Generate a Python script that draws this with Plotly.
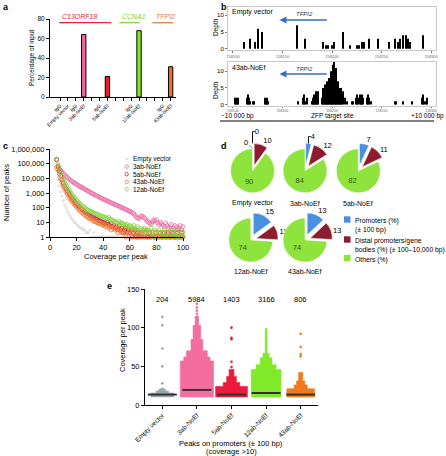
import plotly.graph_objects as go

W, H = 446, 456
FONT = "Liberation Sans, Arial, sans-serif"

# ---------------- Panel a data ----------------
a_tick_labels = ["IgG", "Empty vector", "IgG", "3ab-NoEf", "", "IgG", "5ab-NoEf", "", "", "IgG",
                 "12ab-NoEf", "", "", "IgG", "43ab-NoEf"]
a_bar_slots = [3, 6, 10, 14]
a_bar_values = [64, 21, 68, 31]
a_bar_colors = ["#f0679c", "#ec1c24", "#7ee82a", "#f26c1a"]
a_genes = ["C13ORF18", "CCNA1", "TFPI2"]
a_gene_start = [-0.1, 7.5, 11.7]
a_gene_end = [6.5, 10.1, 14.3]
a_gene_colors = ["#e0283a", "#7ed627", "#f07a3a"]

# ---------------- Panel b data ----------------
b_tick_vals = [-10000, -5000, 0, 5000, 10000]
b_tick_text = ["158100", "158150", "158200", "158250", "158300"]
b_top_pos = [-8860, -8310, -7780, -7440, -7040, -3535, -2730, -880, -600, -370, 30, 170,
             1140, 1820, 2490, 2730, 3000, 3230, 3740, 4680, 5760, 6360, 6630, 6870, 7200,
             7440, 7640, 7880, 9160]
b_top_depth = [2, 3, 2, 6, 5, 7, 3, 2, 1, 1, 1, 2, 5, 1, 1, 1, 2, 2, 3, 3, 2, 3, 2, 3, 4, 4, 3, 2, 4]
b_bot_pos = [-9800, -9700, -9590, -9490, -8550, -8450, -8350, -8250, -7950, -7850, -6770, -6670,
             -6560, -6430, -3400, -2900, -2800, -2700, -2560, -2050, -1920, -1820, -1720, -1620,
             -1520, -1410, -980, -880, -780, -680, -570, -470, -370, -270, -170, -70, 30, 130,
             200, 300, 400, 500, 600, 710, 810, 910, 1010, 1110, 1310, 1520, 1990, 2150, 2390,
             2490, 2590, 2830, 2930, 3030, 3130, 3500, 3640, 3770, 3910, 6360, 6500, 7200, 8050,
             9120, 9220, 9320, 9460, 9600]
b_bot_depth = [2, 2, 1, 2, 2, 3, 2, 1, 1, 1, 2, 1,
               2, 1, 1, 2, 3, 1, 2, 1, 2, 3, 2, 4,
               3, 4, 2, 5, 3, 6, 4, 7, 5, 8, 6, 10, 7, 12,
               13.5, 9, 11, 6, 7, 5, 4, 5, 3, 4, 2, 1, 1, 1, 2,
               3, 2, 3, 1, 3, 2, 2, 3, 2, 1, 1, 1, 1, 1,
               2, 3, 1, 1, 2]

# ---------------- Panel c data ----------------
c_coverage = [5, 6, 7, 8, 9, 10, 11, 12, 13, 14, 15, 16, 17, 18, 19, 20, 21, 22, 23, 24, 25, 26, 27,
              28, 29, 30, 31, 32, 33, 34, 35, 36, 37, 38, 39, 40, 41, 42, 43, 44, 45, 46, 47, 48, 49,
              50, 51, 52, 53, 54, 55, 56, 57, 58, 59, 60, 61, 62, 63, 64, 65, 66, 67, 68, 69, 70, 71,
              72, 73, 74, 75, 76, 77, 78, 79, 80, 81, 82, 83, 84, 85, 86, 87, 88, 89, 90, 91, 92, 93,
              94, 95, 96, 97, 98, 99, 100]
c_series = ["Empty vector", "3ab-NoEf", "5ab-NoEf", "43ab-NoEf", "12ab-NoEf"]
c_colors = ["#d0d0d0", "#ea6aa4", "#c8203e", "#f07a30", "#7ed63a"]
c_empty = [30000, 8000, 3000, 1200, 600, 300, 160, 100, 60, 40, 28, 20, 15, 11, 9, 7, 6, 5, 4, 4,
           3, 3, 2, 2, 2, 3, 1, 1, 2, 1, 1, 1, 1, 1, 1, 1, 1, 1, 1, 1, 1, 1, 1, 1, 1, 1, 1, 1, 1,
           1, 1, 1, 1, 1, 1, 1, 1, 1, 1, 1, 1, 1, 1, 1, 1, 1, 1, 1, 1, 1, 1, 1, 1, 1, 1, 1, 1, 1,
           1, 1, 1, 1, 1, 1, 1, 1, 1, 1, 1, 1, 1, 1, 1, 1, 1, 1]
c_3ab = [200000, 60000, 45000, 35000, 28000, 22000, 17000, 14000, 11500, 9500, 8000, 6800, 5900,
         5100, 4500, 3900, 3400, 3000, 2650, 2350, 2100, 1850, 1650, 1450, 1300, 1150, 1000, 900,
         820, 730, 650, 590, 520, 470, 420, 390, 350, 320, 290, 260, 240, 210, 200, 180, 160, 150,
         135, 125, 110, 100, 95, 85, 75, 70, 62, 55, 50, 45, 38, 30, 22, 20, 18, 25, 28, 24, 20,
         16, 12, 10, 9, 8, 11, 14, 12, 15, 9, 7, 10, 8, 6, 5, 9, 6, 4, 5, 7, 3, 4, 6, 5, 3, 4, 6,
         3, 5]
c_5ab = [180000, 70000, 30000, 15000, 8000, 4800, 3000, 2000, 1400, 1000, 720, 540, 400, 300, 230,
         180, 145, 115, 95, 78, 65, 55, 46, 40, 34, 30, 26, 23, 20, 18, 16, 14, 13, 12, 11, 10, 9,
         8, 10, 7, 6, 8, 5, 6, 4, 5, 3, 6, 3, 4, 2, 3, 4, 2, 3, 2, 3, 1, 2, 3, 1, 2, 1, 2, 1, 3,
         1, 2, 1, 1, 2, 1, 2, 1, 1, 2, 1, 1, 2, 1, 1, 2, 1, 1, 2, 1, 1, 2, 1, 1, 1, 2, 1, 1, 2, 1]
c_43ab = [50000, 40000, 20000, 9000, 5000, 3000, 1900, 1200, 850, 600, 430, 320, 240, 180, 140,
          110, 88, 70, 57, 47, 40, 33, 28, 24, 20, 18, 16, 14, 12, 11, 10, 9, 8, 9, 7, 6, 7, 5, 6,
          4, 5, 3, 4, 5, 3, 4, 2, 3, 4, 2, 3, 2, 1, 3, 2, 2, 1, 2, 3, 1, 2, 1, 2, 1, 1, 2, 1, 3,
          1, 2, 1, 1, 2, 1, 2, 1, 1, 2, 1, 1, 2, 1, 1, 2, 1, 1, 2, 1, 1, 1, 2, 1, 1, 1, 1, 2]
c_12ab = [200000, 100000, 50000, 25000, 14000, 8500, 5500, 3800, 2600, 1800, 1300, 950, 700, 520,
          400, 320, 250, 200, 165, 140, 120, 100, 85, 75, 65, 60, 52, 48, 42, 40, 36, 33, 30, 28,
          26, 24, 22, 20, 18, 22, 16, 14, 15, 12, 11, 10, 9, 12, 8, 9, 7, 8, 6, 7, 5, 6, 5, 4, 6,
          4, 3, 5, 3, 4, 2, 3, 4, 2, 3, 3, 2, 4, 2, 1, 3, 2, 1, 3, 2, 1, 2, 3, 1, 2, 1, 2, 3, 1,
          2, 1, 2, 1, 3, 1, 2, 1]
c_values = [c_empty, c_3ab, c_5ab, c_43ab, c_12ab]
c_ytick_vals = [1, 10, 100, 1000, 10000, 100000, 1000000]
c_ytick_text = ["1", "10", "100", "1,000", "10,000", "100,000", "1,000,000"]

# ---------------- Panel d data ----------------
d_groups = ["Empty vector", "3ab-NoEf", "5ab-NoEf", "12ab-NoEf", "43ab-NoEf"]
d_promoters = [0, 4, 7, 15, 13]
d_distal = [10, 12, 11, 11, 13]
d_others = [90, 84, 82, 74, 74]
d_categories = ["Promoters (%)<br>(± 100 bp)",
                "Distal promoters/gene<br>bodies (%) (± 100–10,000 bp)",
                "Others (%)"]
d_colors = ["#4a90e2", "#8e1b2e", "#8ee43c"]

# ---------------- Panel e data ----------------
e_groups = ["Empty vector", "3ab-NoEf", "5ab-NoEf", "12ab-NoEf", "43ab-NoEf"]
e_counts = [204, 5984, 1403, 3166, 806]
e_medians = [13.5, 19.5, 13.5, 15.5, 13.5]
e_colors = ["#9aa6ae", "#f36d9e", "#ec1a3c", "#80ea2a", "#f27a1c"]
e_band_edges = [[10, 15.5, 18, 20.5, 22],
                [10, 57, 62, 70, 85, 103, 115],
                [10, 24, 29, 37, 46],
                [10, 46, 52, 61, 67, 99],
                [10, 21, 26, 31, 42]]
e_band_halfwidth = [[0.33, 0.18, 0.1, 0.04],
                    [0.48, 0.38, 0.3, 0.17, 0.11, 0.05],
                    [0.46, 0.24, 0.14, 0.07],
                    [0.43, 0.29, 0.17, 0.09, 0.025],
                    [0.4, 0.19, 0.12, 0.06]]
e_outliers = [[28, 50, 73, 103, 114],
              [118, 122, 126, 131],
              [49, 56, 85, 87, 100],
              [],
              [63, 66, 75, 92]]


def pxx(x):
    return x / W


def pyy(y):
    return 1 - y / H


annotations = []
shapes = []


def ann(text, x, y, size=7, xanchor="center", yanchor="middle", color="black", angle=0, pad=1):
    annotations.append(dict(text=text, x=pxx(x), y=pyy(y), xref="paper", yref="paper",
                            showarrow=False, xanchor=xanchor, yanchor=yanchor, textangle=angle,
                            borderpad=pad, font=dict(size=size, color=color, family=FONT)))


fig = go.Figure()

# ---------- a ----------
fig.add_trace(go.Bar(x=a_bar_slots, y=a_bar_values, width=0.55, xaxis="x", yaxis="y",
                     marker=dict(color=a_bar_colors, line=dict(color="black", width=1)),
                     showlegend=False, hoverinfo="skip"))
for g, s, e, col in zip(a_genes, a_gene_start, a_gene_end, a_gene_colors):
    shapes.append(dict(type="line", xref="x", yref="paper", x0=s, x1=e, y0=pyy(22.7), y1=pyy(22.7),
                       line=dict(color=col, width=1.2)))
    annotations.append(dict(text="<i>%s</i>" % g, x=s + 0.15, y=pyy(16), xref="x", yref="paper",
                            showarrow=False, xanchor="left", yanchor="middle",
                            font=dict(size=7, color=col, family=FONT)))

# ---------- b ----------
fig.add_trace(go.Bar(x=b_top_pos, y=b_top_depth, width=90, xaxis="x2", yaxis="y2",
                     marker=dict(color="black", line=dict(width=0)), showlegend=False,
                     hoverinfo="skip"))
fig.add_trace(go.Bar(x=b_bot_pos, y=b_bot_depth, width=90, xaxis="x3", yaxis="y3",
                     marker=dict(color="black", line=dict(width=0)), showlegend=False,
                     hoverinfo="skip"))
for xa, ya, yarrow, ylab in [("x2", "y2", 8.6, 10.4), ("x3", "y3", 9.2, 10.7)]:
    annotations.append(dict(x=-5300, y=yarrow, ax=-370, ay=yarrow, xref=xa, yref=ya, axref=xa,
                            ayref=ya, text="", showarrow=True, arrowhead=2, arrowsize=1,
                            arrowwidth=1.4, arrowcolor="#3b6cc5"))
    annotations.append(dict(x=-2730, y=ylab, xref=xa, yref=ya, text="<i>TFPI2</i>",
                            showarrow=False, font=dict(size=6, color="#333", family=FONT)))

# ---------- c ----------
for name, vals, col in zip(c_series, c_values, c_colors):
    fig.add_trace(go.Scatter(x=c_coverage, y=vals, mode="markers", xaxis="x4", yaxis="y4",
                             name=name, cliponaxis=False, showlegend=False, hoverinfo="skip",
                             marker=dict(symbol="circle-open", size=4 if name != "Empty vector" else 2,
                                         color=col, line=dict(width=0.8, color=col))))

# ---------- d ----------
pie_centers = [(252.5, 170.8), (305, 170.8), (358.3, 170.8), (250.8, 240), (305, 240)]
half = 27.5
for i, g in enumerate(d_groups):
    cx, cy = pie_centers[i]
    fig.add_trace(go.Pie(values=[d_promoters[i], d_distal[i], d_others[i]], labels=d_categories,
                         sort=False, direction="clockwise", rotation=0, pull=[0.25, 0.25, 0],
                         marker=dict(colors=d_colors, line=dict(color="white", width=0.5)),
                         texttemplate="%{value}", textposition=["outside", "outside", "inside"],
                         insidetextorientation="horizontal",
                         outsidetextfont=dict(size=7.5, color="black", family=FONT),
                         insidetextfont=dict(size=7.5, color="#2e5410", family=FONT),
                         showlegend=False, hoverinfo="skip",
                         domain=dict(x=[pxx(cx - half), pxx(cx + half)],
                                     y=[pyy(cy + half), pyy(cy - half)])))
    ann(g, cx, cy + 32.5 if i < 3 else cy + 31, size=7)
# zero slice label
annotations.append(dict(text="0", x=pxx(252.5), y=pyy(148.3), xref="paper", yref="paper",
                        ax=-7, ay=-6, showarrow=True, arrowhead=0, arrowwidth=0.6,
                        arrowcolor="#555", font=dict(size=7.5, family=FONT)))
# legend of d
for k, (txt, col) in enumerate(zip(d_categories, d_colors)):
    yc = [219.5, 239.5, 258][k]
    shapes.append(dict(type="rect", xref="paper", yref="paper", x0=pxx(344), x1=pxx(350.5),
                       y0=pyy(yc + 3.2), y1=pyy(yc - 3.2), fillcolor=col, line=dict(width=0)))
    annotations.append(dict(text=txt, x=pxx(352.5), y=pyy(yc - 4.5), xref="paper", yref="paper",
                            showarrow=False, xanchor="left", yanchor="top", align="left",
                            font=dict(size=6.8, family=FONT)))

# ---------- e ----------
for i, g in enumerate(e_groups):
    edges = e_band_edges[i]
    hw = e_band_halfwidth[i]
    xs, ys = [], []
    for k in range(len(hw)):
        xs += [i + hw[k], i + hw[k]]
        ys += [edges[k], edges[k + 1]]
    for k in reversed(range(len(hw))):
        xs += [i - hw[k], i - hw[k]]
        ys += [edges[k + 1], edges[k]]
    fig.add_trace(go.Scatter(x=xs, y=ys, mode="lines", fill="toself", fillcolor=e_colors[i],
                             line=dict(width=0.6, color=e_colors[i]), xaxis="x5", yaxis="y5",
                             showlegend=False, hoverinfo="skip"))
    if e_outliers[i]:
        fig.add_trace(go.Scatter(x=[i] * len(e_outliers[i]), y=e_outliers[i], mode="markers",
                                 marker=dict(size=2.6, color=e_colors[i]), xaxis="x5", yaxis="y5",
                                 showlegend=False, hoverinfo="skip"))
    fig.add_trace(go.Scatter(x=[i - 0.42, i + 0.42], y=[e_medians[i], e_medians[i]], mode="lines",
                             line=dict(color="#333333", width=2), xaxis="x5", yaxis="y5",
                             showlegend=False, hoverinfo="skip"))
    annotations.append(dict(text=str(e_counts[i]), x=i, y=136, xref="x5", yref="y5",
                            showarrow=False, font=dict(size=7.5, family=FONT)))

# ---------- legend c ----------
for k, (name, col) in enumerate(zip(c_series, c_colors)):
    yc = [159, 166.6, 174.2, 181.8, 189.4][k]
    r = 1.7 if k > 0 else 1.0
    shapes.append(dict(type="circle", xref="paper", yref="paper", x0=pxx(126.7 - r),
                       x1=pxx(126.7 + r), y0=pyy(yc + r), y1=pyy(yc - r),
                       line=dict(color=col, width=0.8)))
    ann(name, 130.5, yc, size=6.5, xanchor="left")

# ---------- texts ----------
ann("<b>a</b>", 1, 7, size=9, xanchor="left")
ann("<b>b</b>", 219, 7, size=9, xanchor="left")
ann("<b>c</b>", 1, 146, size=9, xanchor="left")
ann("<b>d</b>", 219, 146, size=9, xanchor="left")
ann("<b>e</b>", 105, 286, size=9, xanchor="left")
ann("Percentage of input", 32, 58, size=6.5, angle=-90)
ann("Depth", 216, 27, size=6.5, angle=-90)
ann("Depth", 216, 90, size=6.5, angle=-90)
ann("Empty vector", 230, 12, size=7, xanchor="left")
ann("43ab-NoEf", 230, 67.5, size=7, xanchor="left")
ann("−10 000 bp", 220, 116.5, size=6.5, xanchor="left", pad=0)
ann("ZFP target site", 332, 116.5, size=6.5, pad=0)
ann("+10 000 bp", 445, 116.5, size=6.5, xanchor="right", pad=0)
shapes.append(dict(type="line", xref="paper", yref="paper", x0=pxx(220), x1=pxx(434),
                   y0=pyy(121), y1=pyy(121), line=dict(color="black", width=1)))
ann("Number of peaks", 6, 193, size=7.5, angle=-90)
ann("Coverage per peak", 116, 256, size=7.5)
ann("Coverage per peak", 122, 340, size=7.5, angle=-90)
ann("Peaks on promoters (± 100 bp)", 231, 443, size=7.5)
ann("(coverage >10)", 231, 451.5, size=7.5)

axis_common = dict(showgrid=False, zeroline=False, automargin=False, showline=True,
                   linecolor="black", linewidth=1, ticks="outside", tickcolor="black",
                   tickwidth=1, tickfont=dict(size=7, family=FONT, color="black"))
frame_common = dict(showgrid=False, zeroline=False, automargin=False, showline=True, mirror=True,
                    linecolor="#c8c8c8", linewidth=1, ticks="outside", tickcolor="#777",
                    tickwidth=1)

fig.update_layout(
    template="none", width=W, height=H, autosize=False,
    margin=dict(l=0, r=0, t=0, b=0, pad=0),
    paper_bgcolor="white", plot_bgcolor="white", barmode="overlay",
    font=dict(family=FONT, size=7, color="black"),
    xaxis=dict(axis_common, domain=[pxx(50), pxx(176)], anchor="y", range=[-1.27, 14.68],
               tickvals=list(range(len(a_tick_labels))), ticktext=a_tick_labels, tickangle=-45,
               ticklen=3, tickfont=dict(size=5, family=FONT, color="black")),
    yaxis=dict(axis_common, domain=[pyy(97), pyy(19)], anchor="x", range=[0, 80],
               tickvals=[0, 20, 40, 60, 80], ticklen=3, tickfont=dict(size=6.5, family=FONT)),
    xaxis2=dict(frame_common, domain=[pxx(228), pxx(436)], anchor="y2", range=[-10500, 10500],
                tickvals=b_tick_vals, ticktext=b_tick_text, ticklen=2,
                tickfont=dict(size=4, color="#666", family=FONT)),
    yaxis2=dict(frame_common, domain=[pyy(50), pyy(6.7)], anchor="x2", range=[-0.4, 12.6],
                tickvals=[0, 5, 10], ticklen=2, tickfont=dict(size=6, family=FONT, color="black")),
    xaxis3=dict(frame_common, domain=[pxx(228), pxx(436)], anchor="y3", range=[-10500, 10500],
                tickvals=b_tick_vals, ticktext=b_tick_text, ticklen=1,
                tickfont=dict(size=3.5, color="#666", family=FONT)),
    yaxis3=dict(frame_common, domain=[pyy(105.5), pyy(62)], anchor="x3", range=[-0.3, 12.8],
                tickvals=[0, 5, 10], ticklen=2, tickfont=dict(size=6, family=FONT, color="black")),
    xaxis4=dict(axis_common, domain=[pxx(50), pxx(183)], anchor="y4", range=[0, 100],
                tickvals=[0, 20, 40, 60, 80, 100], ticklen=3,
                tickfont=dict(size=7.5, family=FONT)),
    yaxis4=dict(axis_common, domain=[pyy(237), pyy(149)], anchor="x4", type="log", range=[0, 6],
                tickvals=c_ytick_vals, ticktext=c_ytick_text, ticklen=3,
                tickfont=dict(size=7.5, family=FONT)),
    xaxis5=dict(axis_common, domain=[pxx(145), pxx(318)], anchor="y5", range=[-0.5, 4.5],
                tickvals=list(range(len(e_groups))), ticktext=e_groups, tickangle=-45, ticklen=3,
                tickfont=dict(size=6.5, family=FONT)),
    yaxis5=dict(axis_common, domain=[pyy(405), pyy(289)], anchor="x5", range=[0, 150],
                tickvals=[0, 50, 100, 150], ticklen=3, tickfont=dict(size=7.5, family=FONT)),
    annotations=annotations, shapes=shapes,
)

fig.write_html("out.html", config={"displayModeBar": False},
               post_script="document.body.style.margin='0px';")
